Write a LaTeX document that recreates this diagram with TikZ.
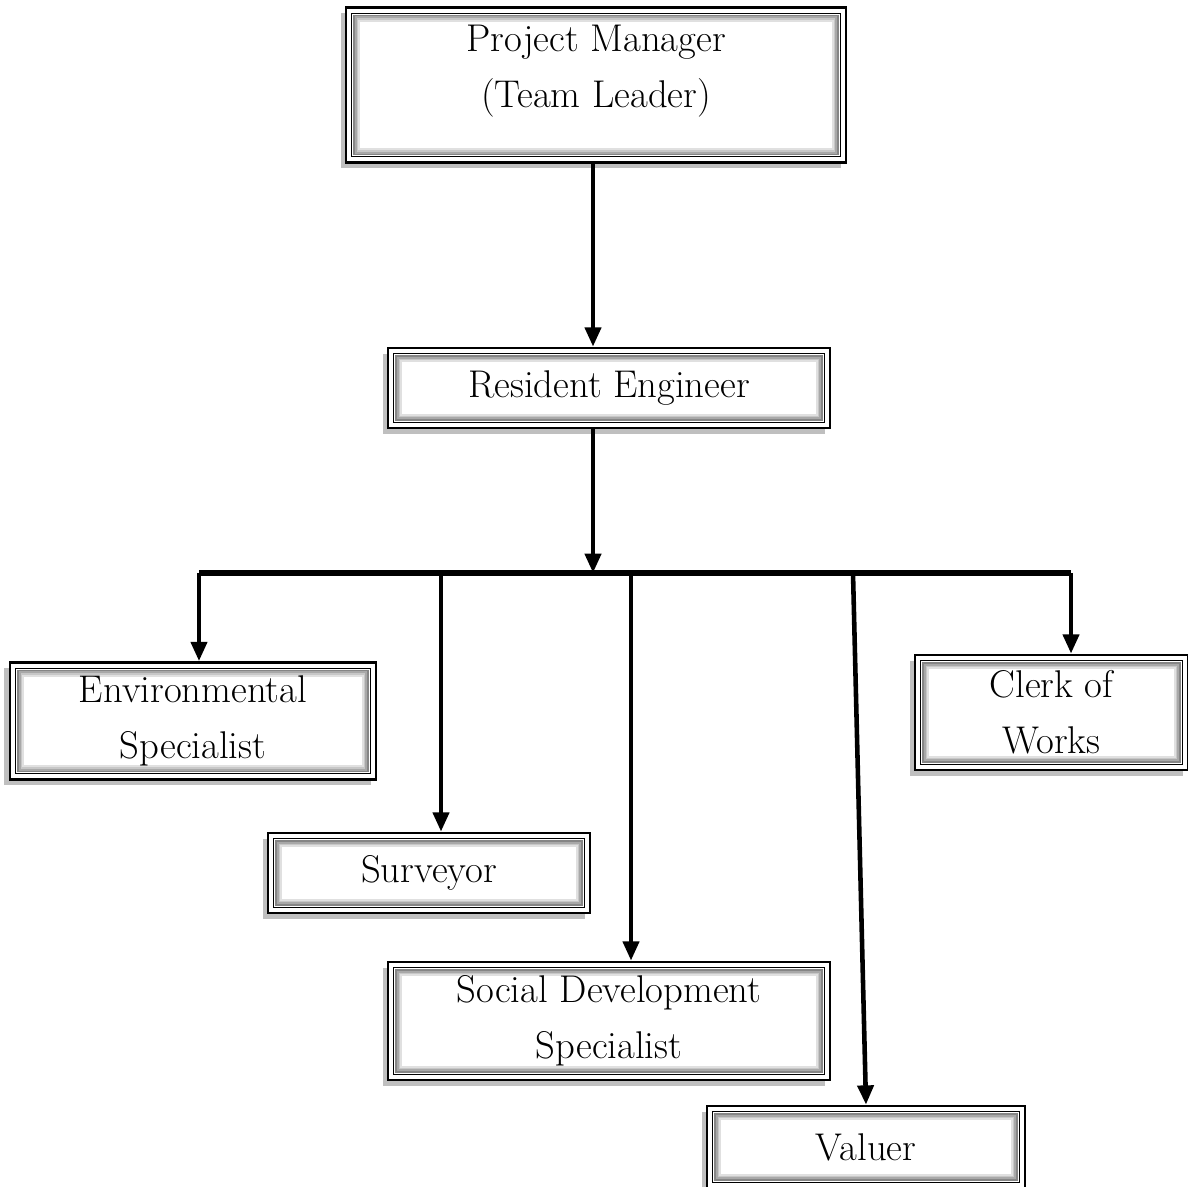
\documentclass[tikz,border=0pt]{standalone}
\usepackage{tikz}
\usetikzlibrary{arrows.meta,shadows,positioning}

\tikzset{
  rolebox/.style 2 args={draw=black, line width=1.5pt, fill=white,
    minimum width=#1cm, minimum height=#2cm, inner sep=0pt,
    align=center, font=\fontsize{22}{32}\selectfont,
    drop shadow={shadow xshift=-1.1mm, shadow yshift=-1.1mm, fill=black!50, opacity=.5},
    path picture={
      \draw[black, line width=.6pt]
        ([shift={(3.2pt,-3.2pt)}]path picture bounding box.north west) rectangle
        ([shift={(-3.2pt,3.2pt)}]path picture bounding box.south east);
      \foreach \d/\g in {4.6/48,5.6/34,6.6/22,7.6/12}
        \draw[black!\g, line width=1.1pt]
          ([shift={(\d pt,-\d pt)}]path picture bounding box.north west) rectangle
          ([shift={(-\d pt,\d pt)}]path picture bounding box.south east);
    }},
  link/.style={line width=2.6pt, -{Triangle[width=9pt,length=11pt]}},
  busline/.style={line width=3.2pt}
}

\begin{document}
\begin{tikzpicture}
\useasboundingbox (0,0) rectangle (23.76,-23.72);

% boxes
\node[rolebox={10.0}{3.1}, text depth=0.75cm] (pm) at (11.92,-1.70) {Project Manager\\(Team Leader)};
\node[rolebox={8.84}{1.6}] (re) at (12.18,-7.76) {Resident Engineer};
\node[rolebox={7.32}{2.34}] (env) at (3.86,-14.42) {Environmental\\Specialist};
\node[rolebox={6.44}{1.6}] (sur) at (8.58,-17.46) {Surveyor};
\node[rolebox={8.84}{2.36}] (soc) at (12.18,-20.42) {Social Development\\Specialist};
\node[rolebox={6.36}{1.64}] (val) at (17.32,-22.94) {Valuer};
\node[rolebox={5.46}{2.3}] (clk) at (21.03,-14.25) {Clerk of\\Works};

% bus
\coordinate (hub) at (11.86,-11.46);
\coordinate (d1) at (3.98,-11.46);
\coordinate (d2) at (8.82,-11.46);
\coordinate (d3) at (12.62,-11.46);
\coordinate (d4) at (17.06,-11.46);
\coordinate (d5) at (21.42,-11.46);

\draw[link] (pm.south -| hub) -- (re.north -| hub);
\draw[link] (re.south -| hub) -- (hub);
\draw[busline] (d1) -- (d5);

% drops
\draw[link] (d1) -- (env.north -| d1);
\draw[link] (d2) -- (sur.north -| d2);
\draw[link] (d3) -- (soc.north -| d3);
\draw[link] (d4) -- (val.north);
\draw[link] (d5) -- (clk.north -| d5);
\end{tikzpicture}
\end{document}
